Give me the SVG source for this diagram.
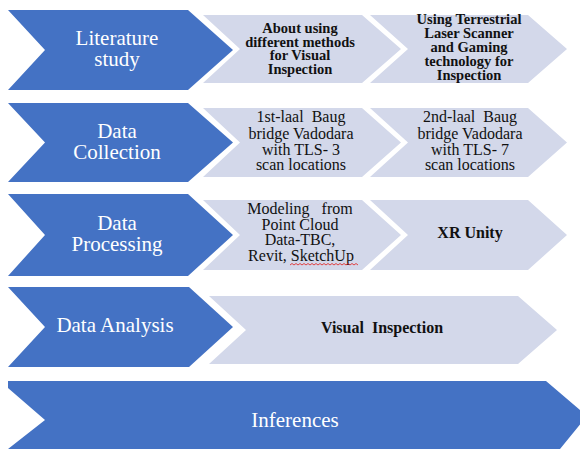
<svg xmlns="http://www.w3.org/2000/svg" width="580" height="456" viewBox="0 0 580 456">
  <style>
    .stage { fill: #4472C4; }
    .step { fill: #D3D8EA; }
    .stage-label { font-family: "Liberation Serif", "Times New Roman", serif; font-size: 21px; fill: #FFFFFF; text-anchor: middle; }
    .step-label { font-family: "Liberation Serif", "Times New Roman", serif; font-size: 16px; fill: #111111; text-anchor: middle; white-space: pre; }
    .step-bold { font-family: "Liberation Serif", "Times New Roman", serif; font-size: 14.5px; font-weight: bold; fill: #111111; text-anchor: middle; }
    .squiggle { fill: none; stroke: #E03030; stroke-width: 0.9; }
  </style>
  <rect width="580" height="456" fill="#FFFFFF"/>

  <!-- Row 1: Literature study -->
  <g id="literature-study">
    <polygon class="stage" points="8,10 188,10 233,50 188,90 8,90 45,50"/>
    <text class="stage-label" x="117" y="45">Literature</text>
    <text class="stage-label" x="117" y="66">study</text>
  </g>
  <g id="lit-methods">
    <polygon class="step" points="203,15 362,15 401,49 362,83 203,83 240,49"/>
    <text class="step-bold" x="300" y="33">About using</text>
    <text class="step-bold" x="300" y="46.5">different methods</text>
    <text class="step-bold" x="300" y="60">for Visual</text>
    <text class="step-bold" x="300" y="73.5">Inspection</text>
  </g>
  <g id="lit-tls-gaming">
    <polygon class="step" points="370,15 528,15 567,49 528,83 370,83 408,49"/>
    <text class="step-bold" x="469" y="24">Using Terrestrial</text>
    <text class="step-bold" x="469" y="38">Laser Scanner</text>
    <text class="step-bold" x="469" y="51.5">and Gaming</text>
    <text class="step-bold" x="469" y="65.5">technology for</text>
    <text class="step-bold" x="469" y="79.5">Inspection</text>
  </g>

  <!-- Row 2: Data Collection -->
  <g id="data-collection">
    <polygon class="stage" points="8,103 188,103 233,142.5 188,182 8,182 45,142.5"/>
    <text class="stage-label" x="117" y="138">Data</text>
    <text class="stage-label" x="117" y="159">Collection</text>
  </g>
  <g id="collection-site-1">
    <polygon class="step" points="203,108 362,108 401,142.5 362,177 203,177 240,142.5"/>
    <text class="step-label" x="301" y="122">1st-laal  Baug</text>
    <text class="step-label" x="301" y="139">bridge Vadodara</text>
    <text class="step-label" x="301" y="155">with TLS- 3</text>
    <text class="step-label" x="301" y="170">scan locations</text>
  </g>
  <g id="collection-site-2">
    <polygon class="step" points="370,108 528,108 567,142.5 528,177 370,177 408,142.5"/>
    <text class="step-label" x="470" y="122">2nd-laal  Baug</text>
    <text class="step-label" x="470" y="139">bridge Vadodara</text>
    <text class="step-label" x="470" y="155">with TLS- 7</text>
    <text class="step-label" x="470" y="170">scan locations</text>
  </g>

  <!-- Row 3: Data Processing -->
  <g id="data-processing">
    <polygon class="stage" points="8,194 188,194 233,235 188,276 8,276 45,235"/>
    <text class="stage-label" x="117" y="230">Data</text>
    <text class="stage-label" x="117" y="251">Processing</text>
  </g>
  <g id="processing-modeling">
    <polygon class="step" points="203,200 362,200 401,235 362,270 203,270 240,235"/>
    <text class="step-label" x="300" y="214">Modeling   from</text>
    <text class="step-label" x="300" y="230">Point Cloud</text>
    <text class="step-label" x="300" y="245">Data-TBC,</text>
    <text class="step-label" x="301" y="261">Revit, SketchUp</text>
    <path class="squiggle" d="M290,265 l2,-1.5 l2,1.5 l2,-1.5 l2,1.5 l2,-1.5 l2,1.5 l2,-1.5 l2,1.5 l2,-1.5 l2,1.5 l2,-1.5 l2,1.5 l2,-1.5 l2,1.5 l2,-1.5 l2,1.5 l2,-1.5 l2,1.5 l2,-1.5 l2,1.5 l2,-1.5 l2,1.5 l2,-1.5 l2,1.5 l2,-1.5 l2,1.5 l2,-1.5 l2,1.5 l2,-1.5 l2,1.5 l2,-1.5 l2,1.5 l2,-1.5 l2,1.5"/>
  </g>
  <g id="processing-xr">
    <polygon class="step" points="370,200 528,200 567,235 528,270 370,270 408,235"/>
    <text class="step-label" x="470" y="238" font-weight="bold" font-size="15.5">XR Unity</text>
  </g>

  <!-- Row 4: Data Analysis -->
  <g id="data-analysis">
    <polygon class="stage" points="8,287 189,287 233,327 189,367 8,367 45,327"/>
    <text class="stage-label" x="115" y="332">Data Analysis</text>
  </g>
  <g id="analysis-visual">
    <polygon class="step" points="209,296 518,296 557,330 518,364 209,364 246,330"/>
    <text class="step-label" x="382" y="333" font-weight="bold" font-size="15">Visual  Inspection</text>
  </g>

  <!-- Row 5: Inferences -->
  <g id="inferences">
    <polygon class="stage" points="8,381 546,381 587,416 560,449 8,449 45,420 8,388"/>
    <text class="stage-label" x="295" y="427" font-size="25">Inferences</text>
  </g>
</svg>
